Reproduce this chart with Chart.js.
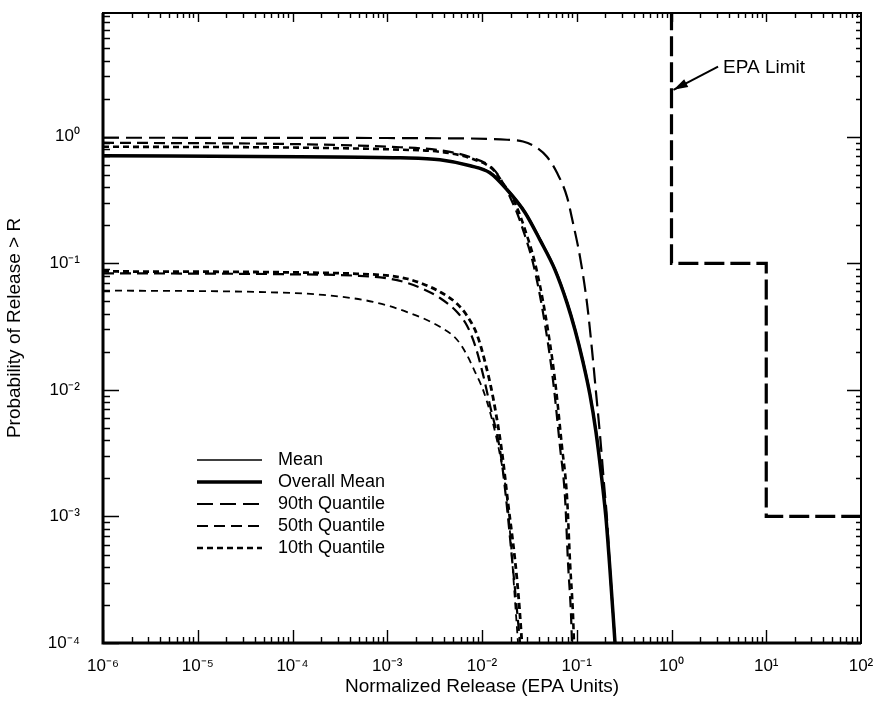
<!DOCTYPE html>
<html>
<head>
<meta charset="utf-8">
<title>Probability of Release</title>
<script src="https://cdn.jsdelivr.net/npm/chart.js@4.4.0/dist/chart.umd.min.js"></script>
<style>
    html, body { margin: 0; padding: 0; background: #fff; }
    #wrap { width: 889px; height: 717px; }
</style>
</head>
<body>
<div id="wrap"><canvas id="releaseChart" width="889" height="717"></canvas></div>
<script>
var FONT = '"Liberation Sans", Arial, Helvetica, sans-serif';

// axis ticks
var xTickValues = [1e-6, 1e-5, 1e-4, 1e-3, 1e-2, 1e-1, 1e0, 1e1, 1e2];
var xTickLabels = ['10⁻⁶', '10⁻⁵', '10⁻⁴', '10⁻³', '10⁻²', '10⁻¹', '10⁰', '10¹', '10²'];
var yTickValues = [1e-4, 1e-3, 1e-2, 1e-1, 1e0];
var yTickLabels = ['10⁻⁴', '10⁻³', '10⁻²', '10⁻¹', '10⁰'];

var legendLabels = ['Mean', 'Overall Mean', '90th Quantile', '50th Quantile', '10th Quantile'];

// upper family of curves
var meanX = [1e-6, 1.2e-4, 1.37e-3, 3.6e-3, 7.6e-3, 0.0122, 0.0186, 0.0288, 0.0413, 0.0595, 0.0797, 0.0969, 0.1176, 0.1394, 0.1611, 0.1818, 0.2057, 0.2266, 0.256];
var meanY = [0.712, 0.699, 0.686, 0.662, 0.594, 0.523, 0.385, 0.254, 0.155, 0.09, 0.0494, 0.03, 0.0168, 0.0092, 0.0047, 0.00228, 0.00097, 0.00038, 0.0001];

var overallMeanX = [1e-6, 1.2e-4, 1.37e-3, 3.6e-3, 7.5e-3, 0.0121, 0.0184, 0.0285, 0.0409, 0.0589, 0.0789, 0.0959, 0.1164, 0.138, 0.1595, 0.18, 0.2037, 0.2244, 0.2535];
var overallMeanY = [0.708, 0.695, 0.682, 0.658, 0.59, 0.519, 0.381, 0.251, 0.153, 0.0888, 0.0487, 0.0297, 0.0166, 0.00911, 0.00465, 0.00226, 0.00096, 0.000375, 0.0001];

var q90X = [1e-6, 1e-4, 1e-3, 3.6e-3, 0.0184, 0.0271, 0.038, 0.0485, 0.0619, 0.0789, 0.0912, 0.1082, 0.1282, 0.1449, 0.1595, 0.176, 0.1945, 0.2085, 0.2244, 0.2535];
var q90Y = [0.982, 0.98, 0.977, 0.973, 0.947, 0.918, 0.819, 0.695, 0.519, 0.335, 0.209, 0.1125, 0.0487, 0.0207, 0.00964, 0.0044, 0.00177, 0.00096, 0.000375, 0.0001];

var q50X = [1e-6, 1.2e-4, 1.37e-3, 3.6e-3, 7.87e-3, 0.0131, 0.0166, 0.0197, 0.0234, 0.0271, 0.0345, 0.0441, 0.0561, 0.0665, 0.0752, 0.0809, 0.0869, 0.089];
var q50Y = [0.897, 0.873, 0.826, 0.782, 0.682, 0.559, 0.433, 0.335, 0.251, 0.184, 0.101, 0.0406, 0.012, 0.00357, 0.00141, 0.000428, 0.00017, 0.0001];

var q10X = [1e-6, 1.2e-4, 1.37e-3, 3.6e-3, 7.87e-3, 0.0131, 0.0166, 0.0208, 0.0246, 0.0285, 0.0362, 0.0463, 0.0589, 0.0698, 0.079, 0.085, 0.0912, 0.0935];
var q10Y = [0.834, 0.82, 0.79, 0.76, 0.67, 0.55, 0.43, 0.335, 0.251, 0.184, 0.101, 0.0406, 0.012, 0.00357, 0.00141, 0.000428, 0.00017, 0.0001];

// lower family of curves
var lowQ10X = [1e-6, 9.41e-5, 4.8e-4, 1.07e-3, 1.62e-3, 2.38e-3, 3.6e-3, 5.45e-3, 6.95e-3, 8.86e-3, 0.01076, 0.0131, 0.0163, 0.0188, 0.0223, 0.0245, 0.0264];
var lowQ10Y = [0.0863, 0.0848, 0.0826, 0.0797, 0.0755, 0.0687, 0.0595, 0.0479, 0.0385, 0.0273, 0.0166, 0.00866, 0.00316, 0.00128, 0.000452, 0.000216, 0.0001];

var lowQ50X = [1e-6, 9.41e-5, 4.8e-4, 1.07e-3, 1.62e-3, 2.38e-3, 3.6e-3, 5.45e-3, 6.95e-3, 8.43e-3, 0.01026, 0.0121, 0.0155, 0.0179, 0.0208, 0.0229, 0.0252];
var lowQ50Y = [0.0834, 0.0819, 0.0797, 0.0755, 0.07, 0.0627, 0.0532, 0.0412, 0.0321, 0.0226, 0.0132, 0.00763, 0.00334, 0.00141, 0.000452, 0.000216, 0.0001];

var lowQ10bX = [1e-6, 4.2e-5, 2.1e-4, 7.08e-4, 1.62e-3, 3.6e-3, 5.45e-3, 6.95e-3, 8.43e-3, 0.01026, 0.01277, 0.0155, 0.0184, 0.0208, 0.0223, 0.024];
var lowQ10bY = [0.0609, 0.0594, 0.0563, 0.0496, 0.0412, 0.0315, 0.0249, 0.0188, 0.0139, 0.01, 0.00581, 0.00304, 0.00136, 0.000452, 0.000216, 0.0001];

// EPA limit step
var epaX = [1, 1, 10, 10, 100];
var epaY = [10, 0.1, 0.1, 0.001, 0.001];

function toPoints(xs, ys) {
    return xs.map(function (x, i) { return { x: x, y: ys[i] }; });
}

function curve(label, xs, ys, width, dash) {
    return {
        label: label,
        data: toPoints(xs, ys),
        borderColor: '#000',
        borderWidth: width,
        borderDash: dash,
        borderCapStyle: 'butt',
        pointRadius: 0,
        fill: false,
        cubicInterpolationMode: 'monotone'
    };
}

var datasets = [
    curve('Mean', meanX, meanY, 1.5, []),
    curve('Overall Mean', overallMeanX, overallMeanY, 3.5, []),
    curve('90th Quantile', q90X, q90Y, 2.2, [16, 7]),
    curve('50th Quantile', q50X, q50Y, 2.2, [11, 6]),
    curve('10th Quantile', q10X, q10Y, 2.6, [6, 4]),
    curve('10th Quantile', lowQ10X, lowQ10Y, 2.8, [6, 4]),
    curve('50th Quantile', lowQ50X, lowQ50Y, 2.2, [11, 6]),
    curve('10th Quantile', lowQ10bX, lowQ10bY, 1.8, [7, 5]),
    {
        label: 'EPA Limit',
        data: toPoints(epaX, epaY),
        borderColor: '#000',
        borderWidth: 3.2,
        borderDash: [20, 6],
        pointRadius: 0,
        fill: false,
        tension: 0
    }
];

// frame, inward ticks, legend and the EPA Limit note
var decorations = {
    id: 'decorations',
    afterDatasetsDraw: function (chart) {
        var ctx = chart.ctx, a = chart.chartArea;
        var xs = chart.scales.x, ys = chart.scales.y;
        ctx.save();
        ctx.strokeStyle = '#000';
        ctx.fillStyle = '#000';
        ctx.setLineDash([]);

        // tick marks on all four sides
        ctx.lineWidth = 1.4;
        ctx.beginPath();
        var e, m, v, p, major;
        for (e = -6; e < 2; e++) {
            for (m = 1; m < 10; m++) {
                v = m * Math.pow(10, e);
                p = Math.round(xs.getPixelForValue(v)) + 0.5;
                major = m === 1;
                ctx.moveTo(p, a.bottom); ctx.lineTo(p, a.bottom - (major ? 13 : 6));
                ctx.moveTo(p, a.top); ctx.lineTo(p, a.top + (major ? 9 : 5));
            }
        }
        for (e = -4; e < 1; e++) {
            for (m = 1; m < 10; m++) {
                v = m * Math.pow(10, e);
                if (v > ys.max) break;
                p = Math.round(ys.getPixelForValue(v)) + 0.5;
                major = m === 1;
                ctx.moveTo(a.left, p); ctx.lineTo(a.left + (major ? 16 : 7), p);
                ctx.moveTo(a.right, p); ctx.lineTo(a.right - (major ? 14 : 5), p);
            }
        }
        ctx.stroke();

        // frame
        ctx.lineWidth = 2;
        ctx.strokeRect(a.left, a.top, a.right - a.left, a.bottom - a.top);
        ctx.lineWidth = 3;
        ctx.beginPath();
        ctx.moveTo(a.left, a.top);
        ctx.lineTo(a.left, a.bottom);
        ctx.lineTo(a.right, a.bottom);
        ctx.stroke();

        // legend
        ctx.font = '18px ' + FONT;
        ctx.textBaseline = 'middle';
        ctx.textAlign = 'left';
        for (var i = 0; i < legendLabels.length; i++) {
            var ds = chart.data.datasets[i];
            var y = 460 + i * 22;
            ctx.lineWidth = ds.borderWidth;
            ctx.setLineDash(ds.borderDash);
            ctx.beginPath();
            ctx.moveTo(197, y);
            ctx.lineTo(262, y);
            ctx.stroke();
            ctx.setLineDash([]);
            ctx.fillText(legendLabels[i], 278, y);
        }

        // EPA Limit note with arrow
        var tx = xs.getPixelForValue(3.1), ty = ys.getPixelForValue(3.58);
        var hx = xs.getPixelForValue(1.0) + 2, hy = ys.getPixelForValue(2.35);
        ctx.lineWidth = 2;
        ctx.beginPath();
        ctx.moveTo(tx, ty);
        ctx.lineTo(hx, hy);
        ctx.stroke();
        var ang = Math.atan2(hy - ty, hx - tx);
        ctx.beginPath();
        ctx.moveTo(hx, hy);
        ctx.lineTo(hx - 15 * Math.cos(ang - 0.3), hy - 15 * Math.sin(ang - 0.3));
        ctx.lineTo(hx - 15 * Math.cos(ang + 0.3), hy - 15 * Math.sin(ang + 0.3));
        ctx.closePath();
        ctx.fill();
        ctx.font = '19px ' + FONT;
        ctx.fillText('EPA Limit', xs.getPixelForValue(3.5), ys.getPixelForValue(3.5));
        ctx.restore();
    }
};

var chart = new Chart(document.getElementById('releaseChart'), {
    type: 'line',
    data: { datasets: datasets },
    options: {
        responsive: false,
        animation: false,
        events: [],
        layout: { padding: { top: 13, right: 28, left: 0, bottom: 0 } },
        plugins: {
            legend: { display: false },
            tooltip: { enabled: false }
        },
        scales: {
            x: {
                type: 'logarithmic',
                min: 1e-6,
                max: 1e2,
                grid: { display: false, drawTicks: false },
                border: { display: false },
                afterBuildTicks: function (scale) {
                    scale.ticks = xTickValues.map(function (v) { return { value: v }; });
                },
                afterFit: function (scale) {
                    scale.height = 74;
                    scale.paddingLeft = 0;
                    scale.paddingRight = 0;
                },
                ticks: {
                    autoSkip: false,
                    maxRotation: 0,
                    padding: 13,
                    color: '#000',
                    font: { family: FONT, size: 17 },
                    callback: function (value, index) { return xTickLabels[index]; }
                },
                title: {
                    display: true,
                    text: 'Normalized Release (EPA Units)',
                    color: '#000',
                    font: { family: FONT, size: 19 },
                    padding: { top: 0, bottom: 19 }
                }
            },
            y: {
                type: 'logarithmic',
                min: 1e-4,
                max: 9.5,
                grid: { display: false, drawTicks: false },
                border: { display: false },
                afterBuildTicks: function (scale) {
                    scale.ticks = yTickValues.map(function (v) { return { value: v }; });
                },
                afterFit: function (scale) {
                    scale.width = 103;
                    scale.paddingTop = 0;
                    scale.paddingBottom = 0;
                },
                ticks: {
                    autoSkip: false,
                    padding: 23,
                    color: '#000',
                    font: { family: FONT, size: 17 },
                    callback: function (value, index) { return yTickLabels[index]; }
                },
                title: {
                    display: true,
                    text: 'Probability of Release > R',
                    color: '#000',
                    font: { family: FONT, size: 19 },
                    padding: { top: 3, bottom: 0 }
                }
            }
        }
    },
    plugins: [decorations]
});
</script>
</body>
</html>
